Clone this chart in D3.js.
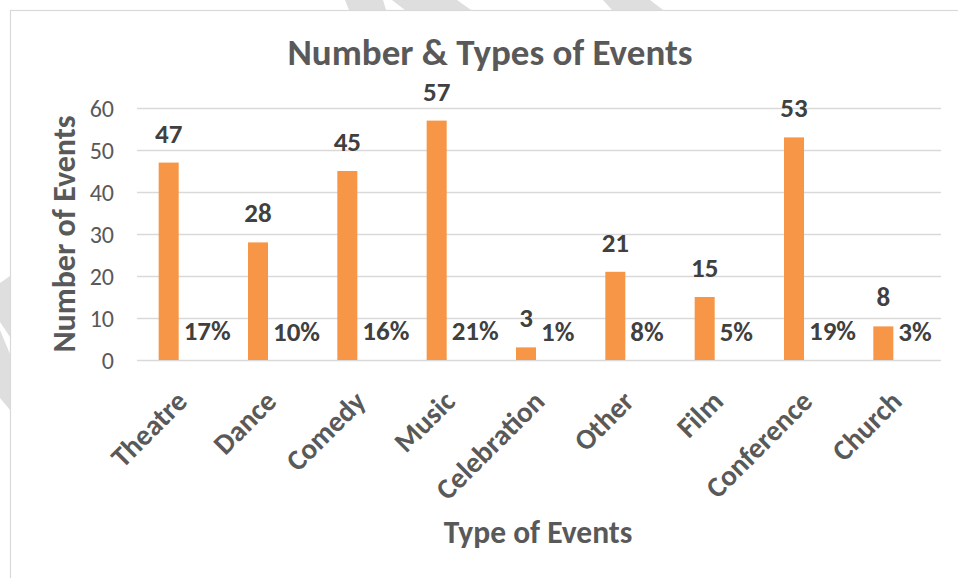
<!DOCTYPE html>
<html>
<head>
<meta charset="utf-8">
<script src="https://cdn.jsdelivr.net/npm/d3@7/dist/d3.min.js"></script>
<style>
  html, body { margin: 0; padding: 0; background: #ffffff; }
  svg { display: block; }
  text { font-family: Carlito, Calibri, Lato, "Noto Sans", sans-serif; }
</style>
</head>
<body>
<svg id="chart" width="958" height="578"></svg>
<script>
// ---- data ----
const categories = ["Theatre", "Dance", "Comedy", "Music", "Celebration", "Other", "Film", "Conference", "Church"];
const eventCounts = [47, 28, 45, 57, 3, 21, 15, 53, 8];
const eventShares = [17, 10, 16, 21, 1, 8, 5, 19, 3]; // percent of all events
const yTicks = [0, 10, 20, 30, 40, 50, 60];
const seriesNames = ["count", "share"];
const titleText = "Number & Types of Events";
const xTitleText = "Type of Events";
const yTitleText = "Number of Events";

// ---- layout ----
const W = 958, H = 578;
const plot = { left: 137, right: 941, top: 108, bottom: 360 };
const svg = d3.select("#chart");

// watermark stripes outside the chart frame
const wm = svg.append("g").attr("fill", "#dedede");
[
  [[345,0],[383,0],[386,10],[349,10]],
  [[392,0],[457,0],[471,10],[405,10]],
  [[603,0],[650,0],[663,10],[612,10]],
  [[0,283],[10,276],[10,337],[0,322]],
  [[0,330],[10,354],[10,410],[0,398]]
].forEach(p => wm.append("polygon").attr("points", p.map(d => d.join(",")).join(" ")));

// chart frame
svg.append("rect")
  .attr("x", 10.5).attr("y", 10.5).attr("width", 980).attr("height", 600)
  .attr("fill", "none").attr("stroke", "#d9d9d9").attr("stroke-width", 1.2);

// ---- scales ----
const x0 = d3.scaleBand().domain(categories).range([plot.left, plot.right]).paddingInner(0).paddingOuter(0);
const x1 = d3.scaleBand().domain(seriesNames).range([-23, 23]).paddingInner(0.23);
const y = d3.scaleLinear().domain([0, 60]).range([plot.bottom, plot.top]);

// gridlines
svg.append("g")
  .selectAll("line").data(yTicks).join("line")
  .attr("x1", plot.left).attr("x2", plot.right)
  .attr("y1", d => Math.round(y(d)) + 0.5).attr("y2", d => Math.round(y(d)) + 0.5)
  .attr("stroke", "#d9d9d9").attr("stroke-width", 1.3);

// y axis tick labels
const yAxis = d3.axisLeft(y).tickValues(yTicks).tickSize(0).tickPadding(0);
const yg = svg.append("g").attr("transform", `translate(${plot.left - 23},0)`).call(yAxis);
yg.select(".domain").remove();
yg.selectAll("text")
  .attr("fill", "#595959").attr("font-size", 24).attr("dy", "0.36em")
  .style("font-family", "Carlito, Calibri, Lato, sans-serif");

// bars (count series)
const center = c => x0(c) + x0.bandwidth() / 2;
const rows = categories.map((c, i) => ({ cat: c, count: eventCounts[i], share: eventShares[i] }));

svg.append("g").selectAll("rect").data(rows).join("rect")
  .attr("x", d => center(d.cat) + x1("count"))
  .attr("width", x1.bandwidth())
  .attr("y", d => y(d.count))
  .attr("height", d => y(0) - y(d.count))
  .attr("fill", "#f79646");

// count labels
svg.append("g").selectAll("text").data(rows).join("text")
  .attr("x", d => center(d.cat) + x1("count") + x1.bandwidth() / 2)
  .attr("y", d => y(d.count) - 20)
  .attr("text-anchor", "middle")
  .attr("font-size", 27).attr("font-weight", "bold").attr("fill", "#404040")
  .text(d => d.count);

// share labels (share series sits at the baseline; its bars are too small to see)
svg.append("g").selectAll("text").data(rows).join("text")
  .attr("x", d => center(d.cat) + x1("share") - 1)
  .attr("y", d => y(d.share / 100) - 19)
  .attr("text-anchor", "start")
  .attr("font-size", 27).attr("font-weight", "bold").attr("fill", "#404040")
  .text(d => d.share + "%");

// category labels
const xAxis = d3.axisBottom(x0).tickSize(0).tickPadding(0);
const xg = svg.append("g").attr("transform", `translate(0,${plot.bottom})`).call(xAxis);
xg.select(".domain").remove();
xg.selectAll("text")
  .attr("transform", "translate(0,36) rotate(-45)")
  .attr("y", 0).attr("dy", "0.35em")
  .attr("text-anchor", "end")
  .attr("fill", "#595959").attr("font-size", 29).attr("font-weight", "bold")
  .style("font-family", "Carlito, Calibri, Lato, sans-serif");

// title
svg.append("text")
  .attr("x", 490).attr("y", 65)
  .attr("text-anchor", "middle")
  .attr("font-size", 37).attr("font-weight", "bold").attr("fill", "#595959")
  .text(titleText);

// x axis title
svg.append("text")
  .attr("x", 538).attr("y", 543)
  .attr("text-anchor", "middle")
  .attr("font-size", 31.5).attr("font-weight", "bold").attr("fill", "#595959")
  .text(xTitleText);

// y axis title
svg.append("text")
  .attr("transform", "translate(75,234) rotate(-90)")
  .attr("text-anchor", "middle")
  .attr("font-size", 32).attr("font-weight", "bold").attr("fill", "#595959")
  .text(yTitleText);
</script>
</body>
</html>
